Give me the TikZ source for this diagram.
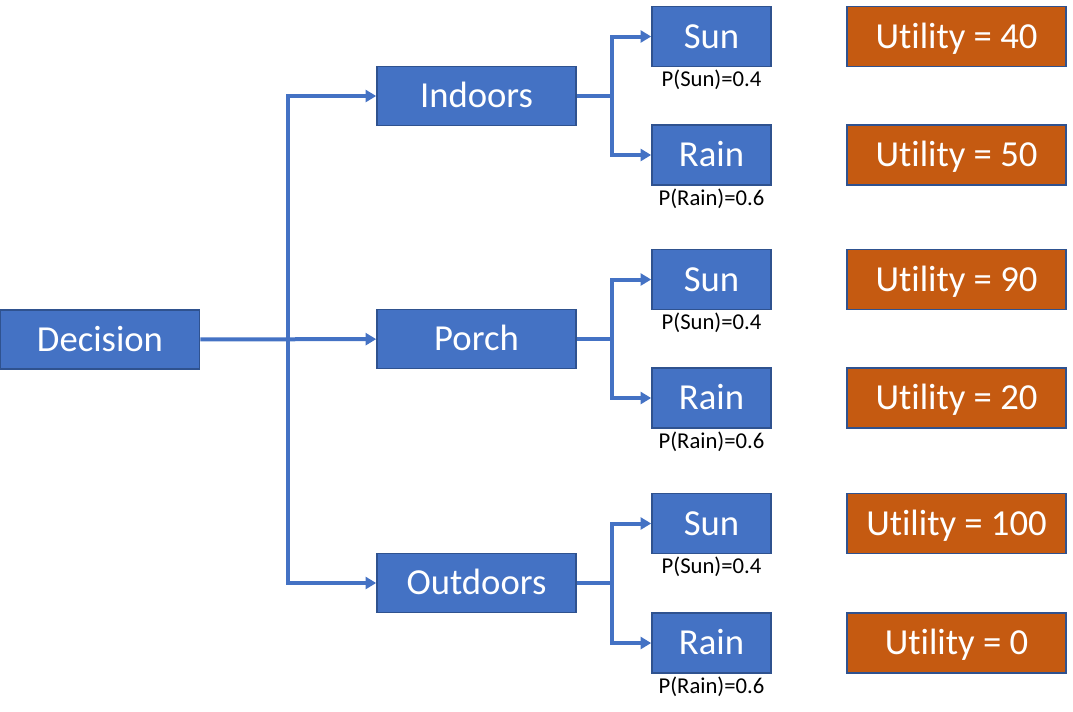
\documentclass[tikz,border=0pt]{standalone}
\usepackage{fontspec}
\setmainfont{Carlito}[Ligatures=NoCommon]
\usetikzlibrary{arrows.meta,positioning}
\definecolor{boxblue}{HTML}{4472C4}
\definecolor{edgeblue}{HTML}{2F528F}
\definecolor{utilorange}{HTML}{C55A11}

\begin{document}
\begin{tikzpicture}[x=0.75pt,y=-0.75pt,>={Triangle[length=8pt,width=9pt]},
  box/.style={draw=edgeblue,fill=boxblue,line width=1.2pt,text=white,
    font=\fontsize{27.5}{33}\selectfont,inner sep=0pt,
    text height=17.6pt,text depth=0pt},
  choice/.style={box,minimum width=149.25pt,minimum height=44.25pt},
  wx/.style={box,minimum width=89.25pt,minimum height=45pt},
  util/.style={box,fill=utilorange,minimum width=164.25pt,minimum height=45pt},
  prob/.style={font=\fontsize{17}{20}\selectfont,inner sep=0pt},
  link/.style={boxblue,line width=3pt}]
  \useasboundingbox (0,0) rectangle (1073,711);

  % root and the three choices
  \node[choice] (dec) at (100,339.5) {Decision};
  \node[choice] (ind) at (476.5,96) {Indoors};
  \node[choice] (por) at (476.5,339) {Porch};
  \node[choice] (out) at (476.5,583) {Outdoors};

  % weather outcomes
  \node[wx] (s1) at (711.5,36.5) {Sun};
  \node[wx] (r1) at (711.5,155) {Rain};
  \node[wx] (s2) at (711.5,279.5) {Sun};
  \node[wx] (r2) at (711.5,398) {Rain};
  \node[wx] (s3) at (711.5,523.5) {Sun};
  \node[wx] (r3) at (711.5,643) {Rain};

  \node[prob,below=2pt of s1] (ps1) {P(Sun)=0.4};
  \node[prob,below=2pt of r1] (pr1) {P(Rain)=0.6};
  \node[prob,below=2pt of s2] (ps2) {P(Sun)=0.4};
  \node[prob,below=2pt of r2] (pr2) {P(Rain)=0.6};
  \node[prob,below=2pt of s3] (ps3) {P(Sun)=0.4};
  \node[prob,below=2pt of r3] (pr3) {P(Rain)=0.6};

  % utilities
  \node[util] (u1) at (956.5,36.5) {Utility = 40};
  \node[util] (u2) at (956.5,155) {Utility = 50};
  \node[util] (u3) at (956.5,279.5) {Utility = 90};
  \node[util] (u4) at (956.5,398) {Utility = 20};
  \node[util] (u5) at (956.5,523.5) {Utility = 100};
  \node[util] (u6) at (956.5,643) {Utility = 0};

  % connectors
  \coordinate (j0) at (288,339.5);
  \draw[link,->] (dec) -- (por);
  \draw[link,->] (j0) |- (ind);
  \draw[link,->] (j0) |- (out);

  \coordinate (j1) at (612,96);
  \coordinate (j2) at (612,339);
  \coordinate (j3) at (612,583);
  \draw[link] (ind) -- (j1);
  \draw[link] (por) -- (j2);
  \draw[link] (out) -- (j3);
  \draw[link,->] (j1) |- (s1);
  \draw[link,->] (j1) |- (r1);
  \draw[link,->] (j2) |- (s2);
  \draw[link,->] (j2) |- (r2);
  \draw[link,->] (j3) |- (s3);
  \draw[link,->] (j3) |- (r3);
\end{tikzpicture}
\end{document}
